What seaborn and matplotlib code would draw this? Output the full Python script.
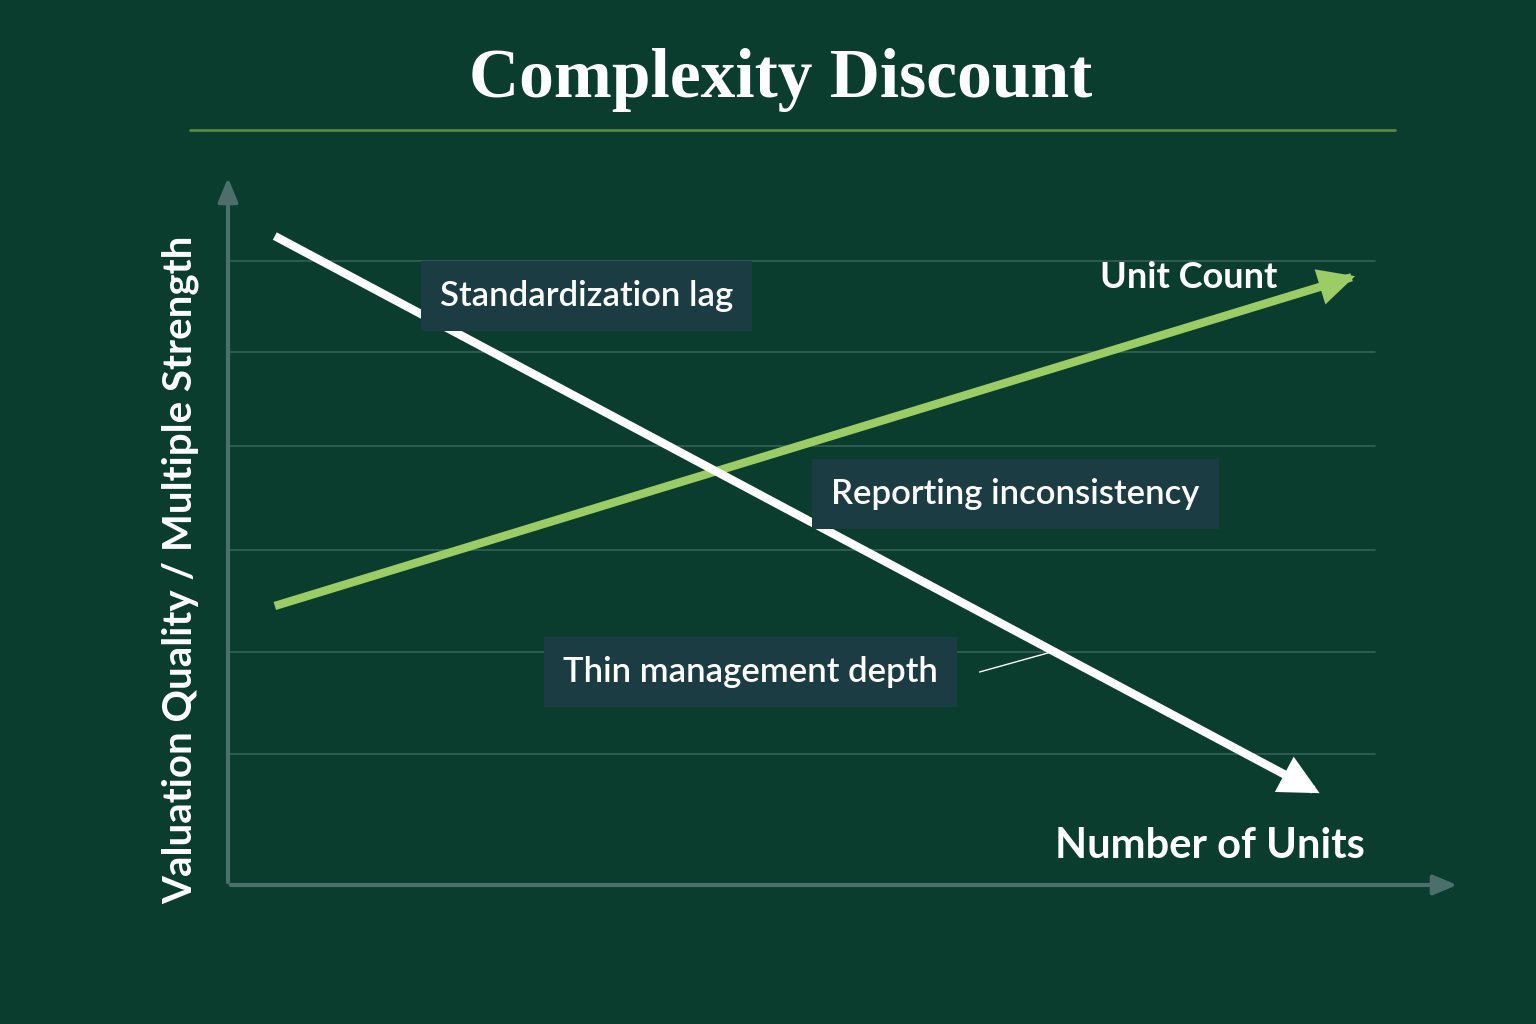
import matplotlib
matplotlib.use("Agg")
import matplotlib.pyplot as plt
import seaborn as sns
import pandas as pd

sns.set_theme(style="white")
plt.rcParams['font.family'] = ['Lato', 'DejaVu Sans']

BG = "#0a3d2e"
quality_x = [0.38, 8.81]
quality_y = [9.14, 1.34]
count_x = [0.38, 9.12]
count_y = [3.93, 8.56]
grid_levels = [8.79, 7.51, 6.18, 4.72, 3.28, 1.85]
labels = ["Standardization lag", "Reporting inconsistency", "Thin management depth"]
label_x = [2.91, 6.39, 4.24]
label_y = [8.30, 5.51, 3.00]

fig = plt.figure(figsize=(15.36, 10.24), dpi=100, facecolor=BG)
ax = fig.add_axes([228/1536, 139/1024, 1232/1536, 710/1024])
ax.set_facecolor(BG)
ax.set_xlim(0, 10)
ax.set_ylim(0, 10)
for s in ax.spines.values():
    s.set_visible(False)
ax.set_xticks([]); ax.set_yticks([])

for g in grid_levels:
    ax.plot([0.02, 9.31], [g, g], color="#2f5f55", lw=1.3, zorder=1)

ax.annotate("", xy=(10.0, 0), xytext=(0, 0),
            arrowprops=dict(arrowstyle="-|>,head_length=1.2,head_width=0.5", color="#4d6f6c", lw=3), annotation_clip=False)
ax.annotate("", xy=(0, 10.0), xytext=(0, 0),
            arrowprops=dict(arrowstyle="-|>,head_length=1.2,head_width=0.5", color="#4d6f6c", lw=3), annotation_clip=False)

df_q = pd.DataFrame({"x": quality_x, "y": quality_y})
df_c = pd.DataFrame({"x": count_x, "y": count_y})
sns.lineplot(data=df_c, x="x", y="y", ax=ax, color="#9ccc65", lw=6, zorder=3, solid_capstyle="butt")
sns.lineplot(data=df_q, x="x", y="y", ax=ax, color="white", lw=6, zorder=4, solid_capstyle="butt")
ax.set_xlabel(""); ax.set_ylabel("")
ax.annotate("", xy=(count_x[1]+0.05, count_y[1]+0.027), xytext=(count_x[1]-0.4, count_y[1]-0.212),
            arrowprops=dict(arrowstyle="-|>,head_length=2.2,head_width=1.1", color="#9ccc65", lw=0), zorder=3)
dx = quality_x[1]-quality_x[0]; dy = quality_y[1]-quality_y[0]
ax.annotate("", xy=(quality_x[1]+0.07, quality_y[1]+0.07*dy/dx), xytext=(quality_x[1]-0.4, quality_y[1]-0.4*dy/dx),
            arrowprops=dict(arrowstyle="-|>,head_length=2.4,head_width=1.2", color="white", lw=0), zorder=4)

ax.plot([6.1, 6.68], [3.0, 3.28], color="white", lw=1, zorder=5)

for t, x, y in zip(labels, label_x, label_y):
    ax.text(x, y, t, ha="center", va="center", color="white", fontsize=25, fontweight="semibold", zorder=6,
            bbox=dict(boxstyle="square,pad=0.55", fc="#1c3c44", ec="none"))

ax.text(7.8, 8.55, "Unit Count", ha="center", va="center", color="white", fontsize=26, fontweight="bold")
ax.text(7.97, 0.55, "Number of Units", ha="center", va="center", color="white", fontsize=30, fontweight="bold")
fig.text(180/1536, 1-570/1024, "Valuation Quality / Multiple Strength", rotation=90, ha="center", va="center",
         color="white", fontsize=29, fontweight="bold")

fig.text(0.508, 1-80/1024, "Complexity Discount", ha="center", va="center", color="white",
         fontsize=50, fontweight="bold", family=["Liberation Serif", "DejaVu Serif"])
fig.add_artist(plt.Line2D([190/1536, 1395/1536], [1-130/1024]*2, color="#6f9a4c", lw=2, alpha=0.8))

fig.savefig("out.png", dpi=100, facecolor=BG)
